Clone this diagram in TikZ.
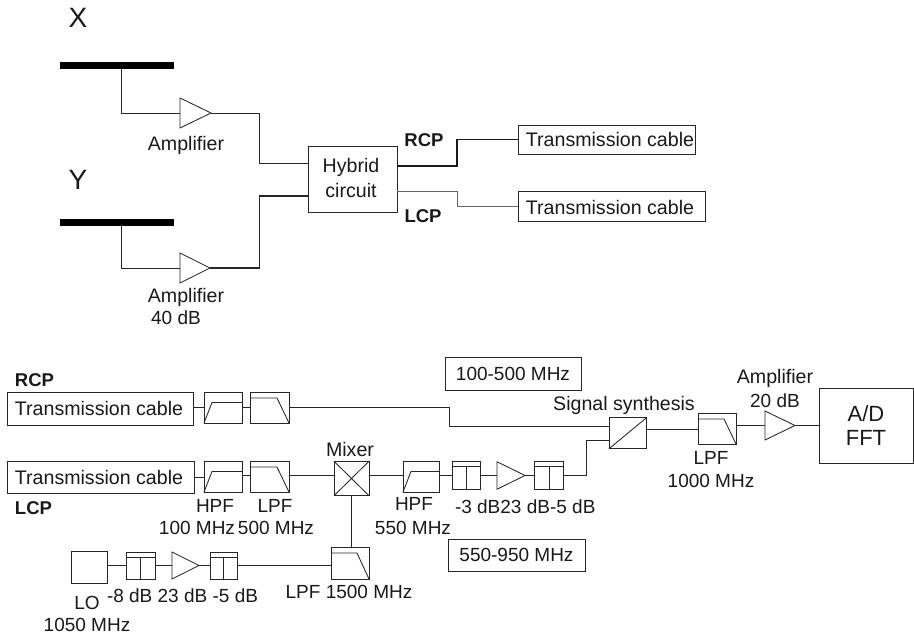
\documentclass[tikz,border=0pt]{standalone}
\usepackage{fontspec}
\setmainfont{Liberation Sans}
\newcommand{\fs}[1]{\fontsize{#1}{#1}\selectfont}
\tikzset{
  ln/.style={line width=0.85pt,draw=black!85},
  blk/.style={draw=black!85,line width=0.85pt,inner sep=0pt,outer sep=0pt,rectangle},
  ghost/.style={draw=none,inner sep=0pt,outer sep=0pt,rectangle},
  lab/.style={draw=none,inner sep=0pt,outer sep=0pt,font=\fs{19},text=black!90},
  wlab/.style={lab,font=\fs{19.6}},
  boldlab/.style={lab,font=\fs{18.5}\bfseries},
  big/.style={lab,font=\fs{28}},
  bar/.style={draw=none,fill=black,inner sep=0pt,outer sep=0pt,rectangle,minimum width=114pt,minimum height=7pt}
}
% name, centre x, centre y, width, height
\newcommand{\mkbox}[5]{\node[blk,minimum width=#4pt,minimum height=#5pt] (#1) at (#2,#3) {};}
\newcommand{\amp}[5]{\node[ghost,minimum width=#4pt,minimum height=#5pt] (#1) at (#2,#3) {};
  \draw[ln] (#1.north west) -- (#1.east) -- (#1.south west) -- cycle;}
\newcommand{\hpf}[5]{\mkbox{#1}{#2}{#3}{#4}{#5}
  \draw[ln] (#1.south west) -- ([xshift=8pt,yshift=-10.5pt]#1.north west) -- ([yshift=-10.5pt]#1.north east);}
\newcommand{\lpf}[5]{\mkbox{#1}{#2}{#3}{#4}{#5}
  \draw[ln] ([yshift=-6pt]#1.north west) -- ([xshift=-12pt,yshift=-6pt]#1.north east) -- (#1.south east);}
\newcommand{\att}[5]{\mkbox{#1}{#2}{#3}{#4}{#5}
  \draw[ln] ([yshift=-5pt]#1.north west) -- ([yshift=-5pt]#1.north east);
  \draw[ln] ([yshift=-5pt]#1.north) -- (#1.south);}
\begin{document}
\begin{tikzpicture}[x=1pt,y=-1pt]
\useasboundingbox (0,0) rectangle (914,637);
% --- top part
\node[big] (lx) at (78,18) {X};
\node[big] (ly) at (78,180) {Y};
\node[bar] (barx) at (117,65.5) {};
\node[bar] (bary) at (117,222.5) {};
\amp{ax}{195.5}{113}{31}{30}
\amp{ay}{195}{268}{30}{30}
\node[wlab] (lax) at (186,145) {Amplifier};
\node[wlab] (lay) at (186,297) {Amplifier};
\node[lab] (lay2) at (176,318) {40 dB};
\mkbox{hy}{352.5}{179}{89}{66}
\node[wlab] (lh1) at (351,167) {Hybrid};
\node[wlab] (lh2) at (351,190) {circuit};
\node[boldlab] (lr1) at (424,140) {RCP};
\node[boldlab] (ll1) at (423,216) {LCP};
\node[blk,minimum width=177pt,minimum height=29pt] (t1) at (606.5,139.5) {};
\node[blk,minimum width=187pt,minimum height=30pt] (t2) at (611.5,206.5) {};
\node[wlab] (lt1) at (610,139) {Transmission cable};
\node[wlab] (lt2) at (610,207) {Transmission cable};
\coordinate (jx) at (121,69);
\coordinate (jy) at (121,226);
\draw[ln] (jx) -- (jx |- ax.west) -- (ax.west);
\draw[ln] (jy) -- (jy |- ay.west) -- (ay.west);
\coordinate (m1) at (259,163);
\coordinate (m2) at (259.5,196);
\coordinate (m3) at (457,166);
\coordinate (m4) at (457,191);
\draw[ln] (ax.east) -- (m1 |- ax.east) -- (m1) -- (m1 -| hy.west);
\draw[line width=1.1pt,draw=black!85] (ay.east) -- (m2 |- ay.east) -- (m2) -- (m2 -| hy.west);
\draw[line width=1.1pt,draw=black!90] (m3 -| hy.east) -- (m3) -- (m3 |- t1.west) -- (t1.west);
\draw[line width=0.85pt,draw=black!60] (m4 -| hy.east) -- (m4) -- (m4 |- t2.west) -- (t2.west);
% --- bottom part
\node[boldlab] (lr2) at (34.5,380) {RCP};
\node[boldlab] (ll2) at (33.5,508) {LCP};
\node[blk,minimum width=186pt,minimum height=33pt] (b1) at (100,408.5) {};
\node[blk,minimum width=187pt,minimum height=32pt] (b2) at (100.5,477) {};
\node[wlab] (lb1) at (99,408) {Transmission cable};
\node[wlab] (lb2) at (99,477) {Transmission cable};
\hpf{h1}{223}{407.5}{38}{31}
\lpf{l1}{269.5}{407.5}{39}{31}
\hpf{h2}{223}{476.5}{38}{31}
\lpf{l2}{269.5}{476.5}{39}{31}
\mkbox{mx}{351.5}{478.5}{35}{34.5}
\draw[ln] (mx.north west) -- (mx.south east) (mx.north east) -- (mx.south west);
\hpf{h3}{421}{476.5}{36}{31}
\att{a1}{466}{475.5}{28}{27.5}
\amp{a2}{511}{475.5}{28}{27.5}
\att{a3}{549}{475.5}{28.5}{27.5}
\mkbox{sum}{627.75}{433.25}{37.5}{31}
\draw[ln] (sum.south west) -- (sum.north east);
\lpf{l3}{717}{428.5}{38}{31}
\amp{a4}{780}{425.5}{30}{29}
\mkbox{ad}{866}{425.5}{94}{75}
\node[lab,font=\fs{22}] (lad) at (866,414) {A/D};
\node[lab,font=\fs{22}] (lff) at (866,438) {FFT};
\mkbox{lo}{89}{567}{36}{32}
\att{a5}{140.5}{565.5}{29}{27}
\amp{a6}{185.5}{565.5}{27}{27}
\att{a7}{223.5}{565.5}{27}{27}
\lpf{l4}{350}{563}{38}{32}
\node[blk,minimum width=136pt,minimum height=33pt] (r1) at (513,373.5) {};
\node[blk,minimum width=137pt,minimum height=32pt] (r2) at (516.5,555) {};
\node[lab] (lr) at (513,374) {100-500 MHz};
\node[lab] (lq) at (516.5,555) {550-950 MHz};
% connectors
\coordinate (c1) at (449,407);
\coordinate (c2) at (586,440);
\draw[ln] (h1.west) -- (h1.west -| b1.east);
\draw[ln] (h1.east) -- (l1.west);
\draw[ln] (l1.east) -- (c1 |- l1.east) -- (c1 |- 0,426) -- (sum.west |- 0,426);
\draw[ln] (b2.east) -- (b2.east -| h2.west);
\draw[ln] ([yshift=1.5pt]h2.east) -- ([yshift=1.5pt]l2.west);
\draw[ln] ([yshift=1.5pt]l2.east) -- (mx.west |- 0,475);
\draw[ln] (mx.east |- 0,475) -- (h3.west |- 0,475);
\draw[ln] (h3.east |- 0,475) -- (a1.west |- 0,475);
\draw[ln] (a1.east) -- (a2.west);
\draw[ln] (a2.east) -- (a3.west);
\draw[ln] (a3.east) -- (c2 |- a3.east) -- (c2) -- (c2 -| sum.west);
\draw[ln] (sum.east |- 0,429) -- (l3.west |- 0,429);
\draw[ln] (l3.east |- a4.west) -- (a4.west);
\draw[ln] (a4.east) -- (ad.west);
\draw[ln] (mx.south) -- (mx.south |- l4.north);
\draw[ln] (lo.east |- a5.west) -- (a5.west);
\draw[ln] (a5.east) -- (a6.west);
\draw[ln] (a6.east) -- (a7.west);
\draw[ln] (a7.east) -- (a7.east -| l4.west);
% labels
\node[lab] (t01) at (215,506) {HPF};
\node[lab] (t02) at (275,506) {LPF};
\node[lab] (t03) at (197,528) {100 MHz};
\node[lab] (t04) at (276,528) {500 MHz};
\node[wlab] (t05) at (350,449) {Mixer};
\node[lab] (t06) at (414,504) {HPF};
\node[lab,anchor=west] (t07) at (455,507) {-3 dB23 dB-5 dB};
\node[lab] (t08) at (413,528) {550 MHz};
\node[lab] (t09) at (349,592) {LPF 1500 MHz};
\node[lab] (t10) at (87,603) {LO};
\node[lab] (t11) at (87,625) {1050 MHz};
\node[lab,anchor=west] (t12) at (107,596) {-8 dB 23 dB -5 dB};
\node[wlab] (t13) at (624,405) {Signal synthesis};
\node[lab] (t14) at (711,458) {LPF};
\node[lab] (t15) at (711,481) {1000 MHz};
\node[wlab] (t16) at (775,378) {Amplifier};
\node[lab] (t17) at (775,401) {20 dB};
\end{tikzpicture}
\end{document}
